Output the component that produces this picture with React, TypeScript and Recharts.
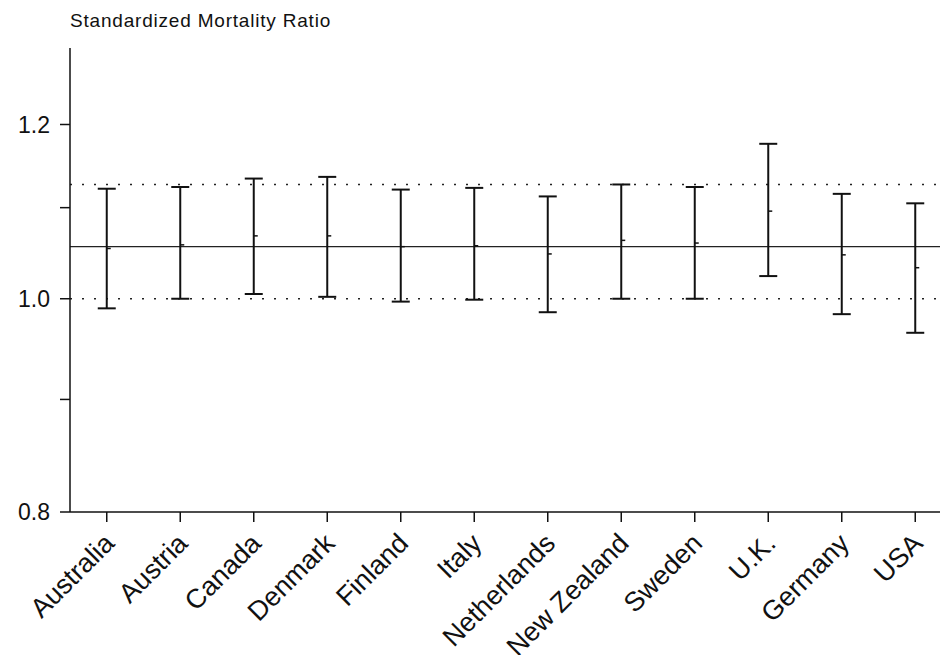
import React from "react";
import {
  ComposedChart,
  Scatter,
  ErrorBar,
  XAxis,
  YAxis,
  ReferenceLine,
} from "recharts";

const countries = [
  "Australia",
  "Austria",
  "Canada",
  "Denmark",
  "Finland",
  "Italy",
  "Netherlands",
  "New Zealand",
  "Sweden",
  "U.K.",
  "Germany",
  "USA",
];
const smr = [1.054, 1.058, 1.068, 1.068, 1.056, 1.057, 1.048, 1.063, 1.06, 1.096, 1.047, 1.033];
const lower = [0.99, 1.0, 1.005, 1.002, 0.997, 0.999, 0.986, 1.0, 1.0, 1.024, 0.984, 0.965];
const upper = [1.122, 1.124, 1.134, 1.136, 1.121, 1.123, 1.113, 1.127, 1.124, 1.176, 1.116, 1.105];

const overall = 1.056;
const lowerLimit = 1.0;
const upperLimit = 1.127;

const yTicks = [0.8, 0.9, 1.0, 1.1, 1.2];
const yLabels = ["0.8", "", "1.0", "", "1.2"];

const data = countries.map((name, i) => ({
  name,
  smr: smr[i],
  err: [smr[i] - lower[i], upper[i] - smr[i]],
}));

const FONT = "'Liberation Sans', Arial, Helvetica, sans-serif";

function YTick(props: any) {
  const { x, y, payload } = props;
  const idx = yTicks.indexOf(payload.value);
  const label = idx >= 0 ? yLabels[idx] : "";
  if (!label) return null;
  return (
    <text x={x} y={y} dy="0.36em" textAnchor="end" fontSize={23} fontFamily={FONT} fill="#111">
      {label}
    </text>
  );
}

function XTick(props: any) {
  const { x, y, payload } = props;
  const tx = x + 9;
  const ty = y + 21;
  return (
    <text
      x={tx}
      y={ty}
      textAnchor="end"
      fontSize={27}
      fontFamily={FONT}
      fill="#111"
      transform={`rotate(-45, ${tx}, ${ty})`}
    >
      {payload.value}
    </text>
  );
}

function PointMark(props: any) {
  const { cx, cy } = props;
  if (cx == null || cy == null) return null;
  return <line x1={cx} y1={cy} x2={cx + 4} y2={cy} stroke="#111" strokeWidth={1.5} />;
}

export default function App() {
  return (
    <div
      style={{
        position: "absolute",
        left: 0,
        top: 0,
        width: 940,
        height: 655,
        overflow: "hidden",
        background: "#fff",
      }}
    >
      <div
        style={{
          position: "absolute",
          left: 70,
          top: 11,
          fontSize: 19,
          lineHeight: 1,
          letterSpacing: 0.8,
          fontFamily: FONT,
          color: "#111",
          whiteSpace: "nowrap",
        }}
      >
        Standardized Mortality Ratio
      </div>
      <ComposedChart
        width={960}
        height={655}
        data={data}
        margin={{ top: 48, right: 8, bottom: 113, left: 0 }}
      >
        <XAxis
          dataKey="name"
          type="category"
          interval={0}
          height={30}
          padding={{ left: 36.75, right: 36.75 }}
          tick={<XTick />}
          tickSize={10}
          tickLine={{ stroke: "#111", strokeWidth: 1.5 }}
          axisLine={{ stroke: "#111", strokeWidth: 1.5 }}
        />
        <YAxis
          type="number"
          scale="log"
          domain={[0.8, 1.3]}
          allowDataOverflow
          ticks={yTicks}
          interval={0}
          width={70}
          tickSize={10}
          tickMargin={10}
          tick={<YTick />}
          tickLine={{ stroke: "#111", strokeWidth: 1.5 }}
          axisLine={{ stroke: "#111", strokeWidth: 1.5 }}
        />
        <ReferenceLine y={overall} stroke="#222" strokeWidth={1.3} />
        <ReferenceLine y={upperLimit} stroke="#222" strokeWidth={1.5} strokeDasharray="2 10" />
        <ReferenceLine y={lowerLimit} stroke="#222" strokeWidth={1.5} strokeDasharray="2 10" />
        <Scatter dataKey="smr" shape={<PointMark />} isAnimationActive={false}>
          <ErrorBar dataKey="err" direction="y" width={9} stroke="#111" strokeWidth={2} />
        </Scatter>
      </ComposedChart>
    </div>
  );
}
